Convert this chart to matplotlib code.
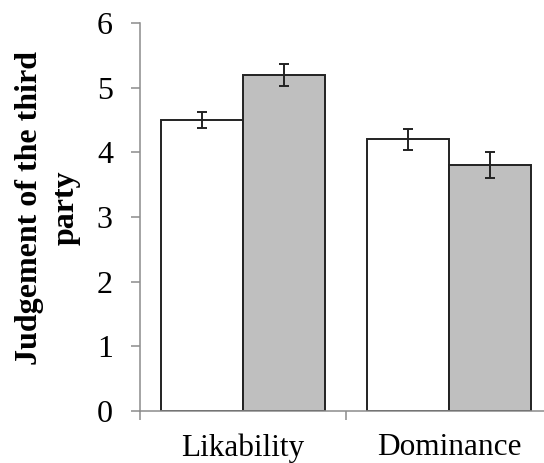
import numpy as np
import matplotlib
matplotlib.use('Agg')
import matplotlib.pyplot as plt

# values
categories = ['Likability', 'Dominance']
white_vals = [4.5, 4.2]
white_err = [0.12, 0.16]
gray_vals = [5.2, 3.8]
gray_err = [0.17, 0.20]
y_ticks = [0, 1, 2, 3, 4, 5, 6]

plt.rcParams['font.family'] = ['Liberation Serif', 'DejaVu Serif']

fig = plt.figure(figsize=(5.44, 4.63), dpi=100)
# axes runs a bit past the right edge, as in the original crop
ax = fig.add_axes([140 / 544, 52 / 463, 412 / 544, 388 / 463])

x = np.arange(len(categories))
w = 0.4
axis_gray = '#8c8c8c'
edge = '#222222'

ax.bar(x - w / 2, white_vals, w, color='white', edgecolor=edge, linewidth=1.4, zorder=2)
ax.bar(x + w / 2, gray_vals, w, color='#bfbfbf', edgecolor=edge, linewidth=1.4, zorder=2)
ax.errorbar(x - w / 2, white_vals, yerr=white_err, fmt='none', ecolor=edge,
            elinewidth=1.4, capsize=3.8, capthick=1.4, zorder=3)
ax.errorbar(x + w / 2, gray_vals, yerr=gray_err, fmt='none', ecolor=edge,
            elinewidth=1.4, capsize=3.8, capthick=1.4, zorder=3)

ax.set_xlim(-0.5, 1.5)
ax.set_ylim(0, 6)
ax.set_yticks(y_ticks)
ax.set_xticks(x)
ax.set_xticklabels(categories)
ax.set_xticks([-0.5, 0.5, 1.5], minor=True)

for side in ['top', 'right']:
    ax.spines[side].set_visible(False)
for side in ['left', 'bottom']:
    ax.spines[side].set_color(axis_gray)
    ax.spines[side].set_linewidth(1.1)
    ax.spines[side].set_zorder(4)

ax.tick_params(axis='y', direction='out', length=6.5, width=1.1, color=axis_gray,
               labelsize=23, pad=13)
ax.tick_params(axis='x', which='major', length=0, labelsize=22.5, pad=16)
ax.tick_params(axis='x', which='minor', direction='out', length=6.5, width=1.1,
               color=axis_gray)

fig.text(47.5 / 544, 1 - 208 / 463, 'Judgement of the third\nparty', rotation=90,
         ha='center', va='center', fontsize=23, fontweight='bold',
         multialignment='center', linespacing=1.35)

fig.savefig('out.png', dpi=100)
